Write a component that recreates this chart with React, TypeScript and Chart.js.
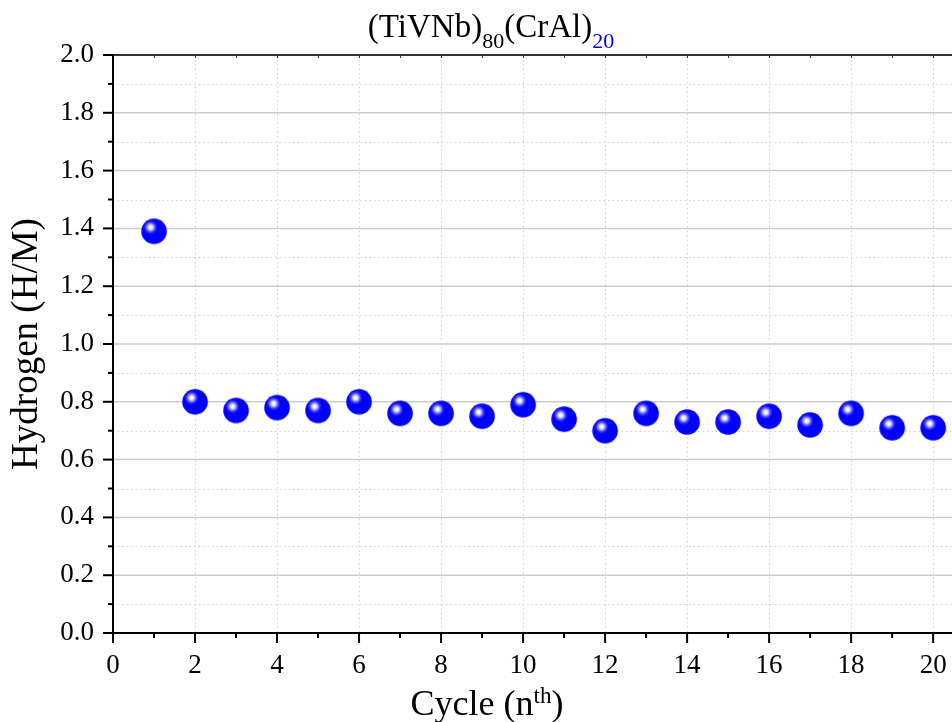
import { useEffect, useRef } from 'react';
import { Chart, registerables } from 'chart.js';
Chart.register(...registerables);

const FAMILY = "'Liberation Serif', 'Times New Roman', serif";

const cycles = [1, 2, 3, 4, 5, 6, 7, 8, 9, 10, 11, 12, 13, 14, 15, 16, 17, 18, 19, 20];
const hydrogen = [1.39, 0.80, 0.77, 0.78, 0.77, 0.80, 0.76, 0.76, 0.75, 0.79, 0.74, 0.70, 0.76, 0.73, 0.73, 0.75, 0.72, 0.76, 0.71, 0.71];

const xMajorTicks = [0, 2, 4, 6, 8, 10, 12, 14, 16, 18, 20];
const xMinorTicks = [1, 3, 5, 7, 9, 11, 13, 15, 17, 19];
const yMajorTicks = [0, 0.2, 0.4, 0.6, 0.8, 1.0, 1.2, 1.4, 1.6, 1.8, 2.0];
const yMinorTicks = [0.1, 0.3, 0.5, 0.7, 0.9, 1.1, 1.3, 1.5, 1.7, 1.9];

const X_MIN = 0;
const X_MAX = 20.46;
const Y_MIN = 0;
const Y_MAX = 2;

type Seg = { text: string; size: number; dy: number; color: string };

const titleSegs: Seg[] = [
  { text: '(TiVNb)', size: 33, dy: 0, color: '#000' },
  { text: '80', size: 22, dy: 11, color: '#000' },
  { text: '(CrAl)', size: 33, dy: 0, color: '#000' },
  { text: '20', size: 22, dy: 11, color: '#0000ff' },
];
const xTitleSegs: Seg[] = [
  { text: 'Cycle (n', size: 36, dy: 0, color: '#000' },
  { text: 'th', size: 23, dy: -12, color: '#000' },
  { text: ')', size: 36, dy: 0, color: '#000' },
];
const yTitleSegs: Seg[] = [{ text: 'Hydrogen (H/M)', size: 37, dy: 0, color: '#000' }];

function drawRich(ctx: CanvasRenderingContext2D, segs: Seg[], cx: number, baseline: number) {
  ctx.textAlign = 'left';
  ctx.textBaseline = 'alphabetic';
  const widths = segs.map((s) => {
    ctx.font = `${s.size}px ${FAMILY}`;
    return ctx.measureText(s.text).width;
  });
  const total = widths.reduce((a, b) => a + b, 0);
  let x = cx - total / 2;
  segs.forEach((s, i) => {
    ctx.font = `${s.size}px ${FAMILY}`;
    ctx.fillStyle = s.color;
    ctx.fillText(s.text, x, baseline + s.dy);
    x += widths[i];
  });
}

function makeSphere(): HTMLCanvasElement {
  const size = 28;
  const c = document.createElement('canvas');
  c.width = size;
  c.height = size;
  const g = c.getContext('2d')!;
  const cx = size / 2;
  const cy = size / 2;
  const r = 12.8;
  const hx = cx - 3.5;
  const hy = cy - 4;
  const grad = g.createRadialGradient(hx, hy, 0, hx, hy, 7);
  grad.addColorStop(0, '#ffffff');
  grad.addColorStop(0.22, '#f4f4ff');
  grad.addColorStop(0.42, '#b4b4ff');
  grad.addColorStop(0.7, '#4040ff');
  grad.addColorStop(1, '#0000ff');
  g.beginPath();
  g.arc(cx, cy, r, 0, Math.PI * 2);
  g.fillStyle = grad;
  g.fill();
  return c;
}

const framePlugin = {
  id: 'frame',
  beforeDatasetsDraw(chart: any) {
    const ctx: CanvasRenderingContext2D = chart.ctx;
    const { left, right, top, bottom } = chart.chartArea;
    const xs = chart.scales.x;
    const ys = chart.scales.y;
    ctx.save();
    ctx.strokeStyle = '#d2d2d2';
    ctx.lineWidth = 1;
    ctx.setLineDash([1.5, 3]);
    yMinorTicks.forEach((v) => {
      const y = Math.round(ys.getPixelForValue(v)) + 0.5;
      ctx.beginPath();
      ctx.moveTo(left, y);
      ctx.lineTo(right, y);
      ctx.stroke();
    });
    xMajorTicks.forEach((v) => {
      if (v === X_MIN) return;
      const x = Math.round(xs.getPixelForValue(v)) + 0.5;
      ctx.beginPath();
      ctx.moveTo(x, top);
      ctx.lineTo(x, bottom);
      ctx.stroke();
    });
    ctx.setLineDash([]);
    ctx.strokeStyle = '#cccccc';
    ctx.lineWidth = 1.5;
    yMajorTicks.forEach((v) => {
      if (v === Y_MIN || v === Y_MAX) return;
      const y = ys.getPixelForValue(v);
      ctx.beginPath();
      ctx.moveTo(left, y);
      ctx.lineTo(right, y);
      ctx.stroke();
    });
    ctx.strokeStyle = '#333333';
    ctx.lineWidth = 2;
    ctx.beginPath();
    ctx.moveTo(left, top);
    ctx.lineTo(right, top);
    ctx.stroke();
    ctx.lineWidth = 1;
    [...xMajorTicks, ...xMinorTicks].forEach((v) => {
      const x = Math.round(xs.getPixelForValue(v)) + 0.5;
      ctx.beginPath();
      ctx.moveTo(x, top);
      ctx.lineTo(x, top + 3);
      ctx.stroke();
    });
    ctx.restore();
  },
  afterDatasetsDraw(chart: any) {
    const ctx: CanvasRenderingContext2D = chart.ctx;
    const { left, right, top, bottom } = chart.chartArea;
    const xs = chart.scales.x;
    const ys = chart.scales.y;
    ctx.save();
    ctx.strokeStyle = '#000';
    ctx.lineWidth = 2;
    ctx.beginPath();
    ctx.moveTo(left, top - 1);
    ctx.lineTo(left, bottom + 1);
    ctx.moveTo(left - 1, bottom);
    ctx.lineTo(right, bottom);
    ctx.stroke();
    yMajorTicks.forEach((v) => {
      const y = ys.getPixelForValue(v);
      ctx.beginPath();
      ctx.moveTo(left - 10, y);
      ctx.lineTo(left, y);
      ctx.stroke();
    });
    yMinorTicks.forEach((v) => {
      const y = ys.getPixelForValue(v);
      ctx.beginPath();
      ctx.moveTo(left - 5, y);
      ctx.lineTo(left, y);
      ctx.stroke();
    });
    xMajorTicks.forEach((v) => {
      const x = xs.getPixelForValue(v);
      ctx.beginPath();
      ctx.moveTo(x, bottom);
      ctx.lineTo(x, bottom + 10);
      ctx.stroke();
    });
    xMinorTicks.forEach((v) => {
      const x = xs.getPixelForValue(v);
      ctx.beginPath();
      ctx.moveTo(x, bottom);
      ctx.lineTo(x, bottom + 5);
      ctx.stroke();
    });
    drawRich(ctx, titleSegs, 491, 37);
    drawRich(ctx, xTitleSegs, 487, 715);
    ctx.translate(37, 344);
    ctx.rotate(-Math.PI / 2);
    drawRich(ctx, yTitleSegs, 0, 0);
    ctx.restore();
  },
};

export default function App() {
  const ref = useRef<HTMLCanvasElement>(null);
  useEffect(() => {
    if (!ref.current) return;
    const sphere = makeSphere();
    const chart = new Chart(ref.current, {
      type: 'scatter',
      data: {
        datasets: [
          {
            label: 'H/M',
            data: cycles.map((c, i) => ({ x: c, y: hydrogen[i] })),
            pointStyle: sphere as any,
            pointRadius: 13,
            showLine: false,
          },
        ],
      },
      options: {
        animation: false,
        responsive: true,
        maintainAspectRatio: false,
        layout: { autoPadding: false, padding: { top: 55, left: 0, right: 0, bottom: 0 } },
        plugins: {
          legend: { display: false },
          tooltip: { enabled: false },
          title: { display: false },
        },
        scales: {
          x: {
            type: 'linear',
            position: 'bottom',
            min: X_MIN,
            max: X_MAX,
            afterBuildTicks: (s: any) => {
              s.ticks = xMajorTicks.map((v) => ({ value: v }));
            },
            afterFit: (s: any) => {
              s.height = 89;
              s.paddingLeft = 0;
              s.paddingRight = 0;
            },
            grid: { display: false, drawTicks: false },
            border: { display: false },
            ticks: {
              font: { family: FAMILY, size: 27, lineHeight: 2.42 },
              color: '#000',
              padding: 0,
              maxRotation: 0,
              autoSkip: false,
              callback: (v: any) => String(v),
            },
          },
          y: {
            type: 'linear',
            min: Y_MIN,
            max: Y_MAX,
            afterBuildTicks: (s: any) => {
              s.ticks = yMajorTicks.map((v) => ({ value: v }));
            },
            afterFit: (s: any) => {
              s.width = 113;
              s.paddingTop = 0;
              s.paddingBottom = 0;
            },
            grid: { display: false, drawTicks: false },
            border: { display: false },
            ticks: {
              font: { family: FAMILY, size: 27 },
              color: '#000',
              padding: 19,
              autoSkip: false,
              callback: (v: any) => Number(v).toFixed(1),
            },
          },
        },
      },
      plugins: [framePlugin],
    });
    return () => chart.destroy();
  }, []);
  return (
    <div style={{ position: 'fixed', left: 0, top: 0, width: 952, height: 722, background: '#fff' }}>
      <canvas ref={ref} style={{ width: '100%', height: '100%' }} />
    </div>
  );
}
